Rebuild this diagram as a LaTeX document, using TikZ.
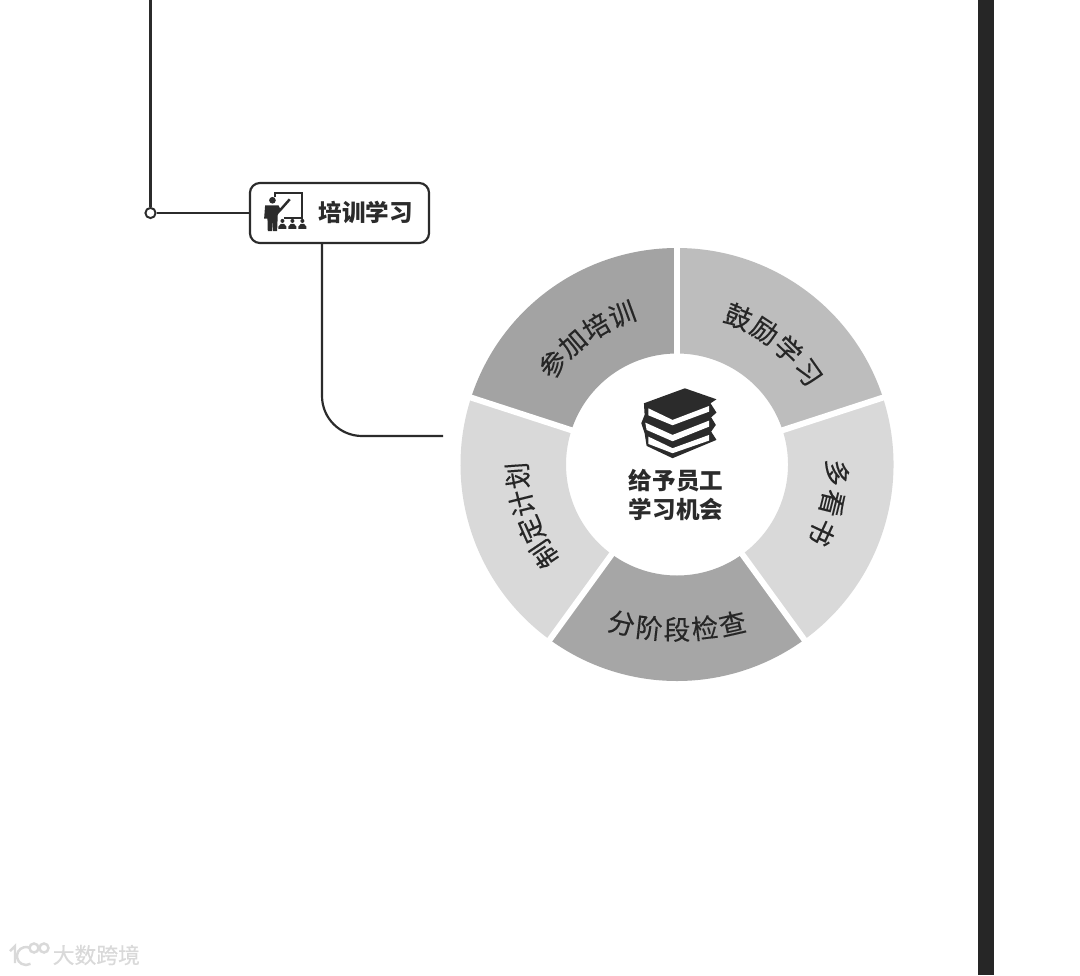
\documentclass[tikz,border=0pt]{standalone}
\usepackage{fontspec}
\setmainfont{Noto Sans CJK SC}
\newfontfamily\ringfont[FakeBold=0.25]{Noto Sans CJK SC}
\definecolor{inkdark}{HTML}{2B2B2B}
\definecolor{barkdark}{HTML}{262626}
\tikzset{
  link/.style={draw=inkdark, line width=0.62pt},
  ringtext/.style={inner sep=0pt, text=black!85, font=\fontsize{7.6}{8}\ringfont},
  boldtext/.style={inner sep=0pt, text=inkdark, font=\fontsize{6.7}{8}\selectfont\bfseries, align=center},
}
% one character at a time round the ring
\newcommand{\arcchars}[5]{%
  \foreach \ch [count=\i from 0] in {#5} {
    \pgfmathsetmacro{\ang}{#1+\i*#2}
    \node[ringtext, rotate=\ang+#3] (ch\ch) at (\ang:#4) {\ch};
  }}
\begin{document}
\begin{tikzpicture}[x=0.01cm, y=0.01cm]
  \useasboundingbox (0,0) rectangle (1080,975);
  \fill[white] (0,0) rectangle (1080,975);

  % Right bar
  \fill[barkdark] (978,0) rectangle (994,975);

  % Stem and training box
  \coordinate (stemtop) at (150.5,975);
  \node[circle, draw=inkdark, fill=white, line width=0.55pt, minimum size=2.9pt, inner sep=0pt] (junction) at (150.5,762) {};
  \node[draw=inkdark, line width=0.62pt, rounded corners=0.1cm, fill=white, minimum width=1.79cm, minimum height=0.6cm, inner sep=0pt] (studybox) at (339.5,762) {};
  \node[boldtext, anchor=west] (studylabel) at (318,763) {培训学习};
  \coordinate (boxdrop) at (322,732);
  \coordinate (ringend) at (443,539);
  \draw[link] (stemtop) -- (junction);
  \draw[link] (junction) -- (studybox);
  \draw[link, rounded corners=0.4cm] (boxdrop) -- (322,539) -- (ringend);

  % Teacher icon
  \begin{scope}[shift={(130,805)}, x=0.00333cm, y=-0.00333cm, inkdark]
    \draw[line width=0.5pt] (435,82) -- (435,69) -- (517,69) -- (517,145) -- (462,145);
    \draw[line width=0.7pt] (450,122) -- (480,88);
    \fill (428,91) circle (10);
    \fill (406,106) -- (446,106) -- (454,122) -- (444,134) -- (442,184) -- (429,184) -- (428,150) -- (426,184) -- (414,184) -- (413,146) -- (403,146) -- cycle;
    \foreach \px in {458,488,518} {
      \fill (\px,153) circle (6);
      \fill (\px-12,177) -- (\px-12,170) -- (\px-5,162) -- (\px+5,162) -- (\px+12,170) -- (\px+12,177) -- cycle;
    }
  \end{scope}

  % Ring, centre at (677,510.5)
  \begin{scope}[shift={(677,510.5)}]
    \foreach \a/\b/\shade in {90/18/BDBDBD, 18/-54/D9D9D9, -54/-126/A6A6A6, -126/-198/D9D9D9, 162/90/A3A3A3} {
      \definecolor{sectorcol}{HTML}{\shade}
      \fill[sectorcol] (\a:216.5) arc[start angle=\a, end angle=\b, radius=216.5] -- (\b:111) arc[start angle=\b, end angle=\a, radius=111] -- cycle;
    }
    \foreach \a in {90,18,-54,-126,162} {
      \draw[white, line width=1.7pt] (\a:105) -- (\a:222);
    }
    \arcchars{67.5}{-10.8}{-90}{160}{鼓,励,学,习}
    \arcchars{-3}{-11}{-90}{160}{多,看,书}
    \arcchars{214}{-10}{-90}{160}{制,定,计,划}
    \arcchars{141}{-10.3}{-90}{160}{参,加,培,训}
    % bottom word sits on a flatter curve
    \begin{scope}[shift={(0,85)}]
      \arcchars{-102.8}{6.4}{90}{250}{分,阶,段,检,查}
    \end{scope}
  \end{scope}

  % Book pile
  \begin{scope}[shift={(600,605)}, x=0.00333cm, y=-0.00333cm]
    \fill[inkdark] (255,55) -- (350,88) -- (332,100) -- (350,128) -- (334,142) -- (348,165) -- (334,185) -- (350,210) -- (218,265) -- (140,228) -- (134,190) -- (124,160) -- (134,135) -- (132,100) -- cycle;
    \fill[white] (145,115) -- (218,150) -- (328,108) -- (328,125) -- (218,166) -- (145,136) -- cycle;
    \fill[white] (136,158) -- (218,195) -- (328,152) -- (328,170) -- (218,214) -- (140,180) -- cycle;
    \fill[white] (145,200) -- (218,235) -- (328,195) -- (328,212) -- (218,250) -- (145,222) -- cycle;
  \end{scope}
  \node[boldtext] (ringtitle) at (676,480) {给予员工\\学习机会};

  % Watermark
  \begin{scope}[gray!30, line width=0.7pt]
    \draw (10,24) -- (15,29) -- (15,12);
    \draw (30.5,26.8) arc[start angle=60, end angle=300, radius=9];
    \draw (34,27) circle (4.5);
    \draw (44,27) circle (4.5);
  \end{scope}
  \node[inner sep=0pt, text=gray!30, font=\fontsize{6.2}{7}\ringfont, anchor=west] (marktext) at (52,20) {大数跨境};
\end{tikzpicture}
\end{document}
